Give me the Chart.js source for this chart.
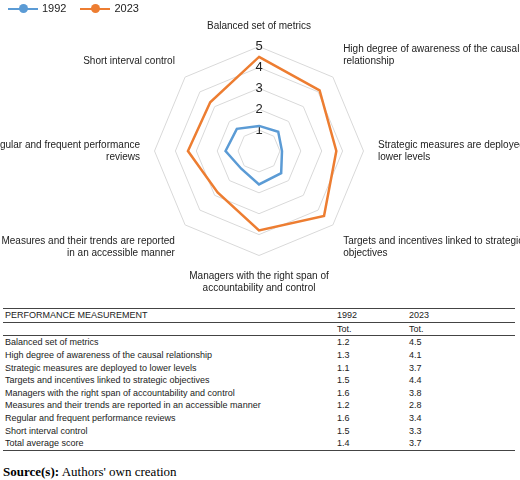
<!DOCTYPE html>
<html><head><meta charset="utf-8">
<script src="https://cdn.jsdelivr.net/npm/chart.js@4"></script>
<style>
body{margin:0;background:#fff;font-family:"Liberation Sans",Arial,sans-serif;overflow:hidden;}
#wrap{position:absolute;left:-45px;top:0;width:610px;height:300px;}
#leg{position:absolute;left:8px;top:2px;font-size:11px;color:#222;}
#leg span{display:inline-block;margin-right:14px;}
#leg i{display:inline-block;width:30px;height:2.5px;vertical-align:middle;position:relative;margin-right:4px;}
#leg i:after{content:"";position:absolute;left:11px;top:-3.5px;width:9px;height:9px;border-radius:50%;background:inherit;}
table{position:absolute;left:3px;top:308px;width:512px;border-collapse:collapse;font-size:9px;color:#222;}
td{padding:0 2px;height:12.6px;line-height:12px;}
td.c1{width:328px;} td.c2{width:68px;}
tr.top td{border-top:1px solid #444;border-bottom:1px solid #444;}
tr.sub td{border-bottom:1px solid #444;}
tr.last td{border-bottom:1px solid #444;}
#src{position:absolute;left:3px;top:464px;font-family:"Liberation Serif",serif;font-size:13px;}
</style></head><body>
<div id="wrap"><canvas id="radar" width="610" height="300"></canvas></div>
<div id="leg"><span><i style="background:#5B9BD5"></i>1992</span><span><i style="background:#ED7D31"></i>2023</span></div>
<table id="tbl"></table>
<div id="src"><b>Source(s):</b> Authors' own creation</div>
<script>
var categories = ['Balanced set of metrics','High degree of awareness of the causal relationship','Strategic measures are deployed to lower levels','Targets and incentives linked to strategic objectives','Managers with the right span of accountability and control','Measures and their trends are reported in an accessible manner','Regular and frequent performance reviews','Short interval control'];
var chartLabels = [['Balanced set of metrics'],['High degree of awareness of the causal','relationship'],['Strategic measures are deployed to','lower levels'],['Targets and incentives linked to strategic','objectives'],['Managers with the right span of','accountability and control'],['Measures and their trends are reported','in an accessible manner'],['Regular and frequent performance','reviews'],['Short interval control']];
var values1992 = [1.2,1.3,1.1,1.5,1.6,1.2,1.6,1.5];
var values2023 = [4.5,4.1,3.7,4.4,3.8,2.8,3.4,3.3];
var total1992 = 1.4, total2023 = 3.7;

var tbl = document.getElementById('tbl');
var html = '<tr class="top"><td class="c1">PERFORMANCE MEASUREMENT</td><td class="c2">1992</td><td>2023</td></tr>';
html += '<tr class="sub"><td></td><td>Tot.</td><td>Tot.</td></tr>';
categories.forEach(function(c,i){
	html += '<tr><td>'+c+'</td><td>'+values1992[i].toFixed(1)+'</td><td>'+values2023[i].toFixed(1)+'</td></tr>';
});
html += '<tr class="last"><td>Total average score</td><td>'+total1992.toFixed(1)+'</td><td>'+total2023.toFixed(1)+'</td></tr>';
tbl.innerHTML = html;

new Chart(document.getElementById('radar'), {
	type: 'radar',
	data: {
		labels: chartLabels,
		datasets: [{
			label: '1992', data: values1992,
			borderColor: '#5B9BD5', backgroundColor: '#5B9BD5',
			fill: false, borderWidth: 2.5, pointRadius: 0
		}, {
			label: '2023', data: values2023,
			borderColor: '#ED7D31', backgroundColor: '#ED7D31',
			fill: false, borderWidth: 2.5, pointRadius: 0
		}]
	},
	options: {
		responsive: false, animation: false,
		layout: { padding: { top: 14, bottom: 0 } },
		plugins: { legend: { display: false } },
		scales: {
			r: {
				min: 0, max: 5,
				ticks: { stepSize: 1, backdropColor: 'transparent', color: '#222', font: { size: 13 } },
				grid: { color: '#d9d9d9' },
				angleLines: { display: false },
				pointLabels: { color: '#222', padding: 6, font: { size: 10, family: 'Liberation Sans' } }
			}
		}
	}
});
</script>
</body></html>
